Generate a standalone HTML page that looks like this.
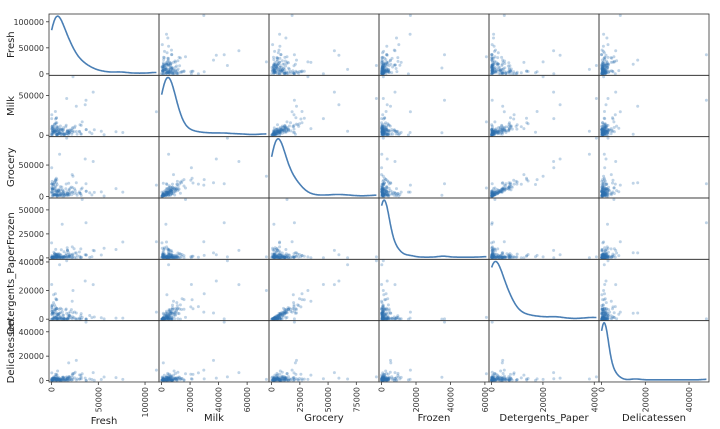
<!DOCTYPE html>
<html><head><meta charset="utf-8"><style>
body{margin:0;background:#fff;}
svg{display:block;font-family:"DejaVu Sans","Liberation Sans",sans-serif;}
</style></head><body>
<svg id="chart" width="720" height="429"></svg>
<script>
const names=["Fresh","Milk","Grocery","Frozen","Detergents_Paper","Delicatessen"];
const mins=[3,55,3,25,3,3];
const maxs=[112151,73498,92780,60869,40827,47943];
const yTicks=[[0,50000,100000],[0,50000],[0,50000],[0,25000,50000],[0,20000,40000],[0,20000,40000]];
const xTicks=[[0,50000,100000],[0,20000,40000,60000],[0,25000,50000,75000],[0,20000,40000,60000],[0,20000,40000],[0,20000,40000]];
const customers=[
[12669,9656,7561,214,2674,1338],[7057,9810,9568,1762,3293,1776],[6353,8808,7684,2405,3516,7844],
[13265,1196,4221,6404,507,1788],[22615,5410,7198,3915,1777,5185],[9413,8259,5126,666,1795,1451],
[12126,3199,6975,480,3140,545],[7579,4956,9426,1669,3321,2566],[5963,3648,6192,425,1716,750],
[6006,11093,18881,1159,7425,2098],[3366,5403,12974,4400,5977,1744],[13146,1124,4523,1420,549,497],
[31714,12319,11757,287,3881,2931],[21217,6208,14982,3095,6707,602],[24653,9465,12091,294,5058,2168],
[10253,1114,3821,397,964,412],[1020,8816,12121,134,4508,1080],[5876,6157,2933,839,370,4478],
[18601,6327,10099,2205,2767,3181],[7780,2495,9464,669,2518,501],[17546,4519,4602,1066,2259,2124],
[5567,871,2010,3383,375,569],[31276,1917,4469,9408,2381,4334],[26373,36423,22019,5154,4337,16523],
[22647,9776,13792,2915,4482,5778],[16165,4230,7595,201,4003,57],[9898,961,2861,3151,242,833],
[14276,803,3045,485,100,518],[4113,20484,25957,1158,8604,5206],[43088,2100,2609,1200,1107,823],
[18815,3610,11107,1148,2134,2963],[2612,4339,3133,2088,820,985],[21632,1318,2886,266,918,405],
[29729,4786,7326,6130,361,1083],[1502,1979,2262,425,483,395],[688,5491,11091,833,4239,436],
[29955,4362,5428,1729,862,4626],[15168,10556,12477,1920,6506,714],[4591,15729,16709,33,6956,433],
[56159,555,902,10002,212,2916],[24025,4332,4757,9510,1145,5864],[19176,3065,5956,2033,2575,2802],
[10850,7555,14961,188,6899,46],[630,11095,23998,787,9529,72],[9670,7027,10471,541,4618,65],
[5181,22044,21531,1740,7353,4985],[3103,14069,21955,1668,6792,1452],[44466,54259,55571,7782,24171,6465],
[11519,6152,10868,584,5121,1476],[4967,21412,28921,1798,13583,1163],[6269,1095,1980,3860,609,2162],
[3347,4051,6996,239,1538,301],[40721,3916,5876,532,2587,1278],[491,10473,11532,744,5611,224],
[27329,1449,1947,2436,204,1333],[5264,3683,5005,1057,2024,1130],[4098,29892,26866,2616,17740,1340],
[5417,9933,10487,38,7572,1282],[13779,1970,1648,596,227,436],[6137,5360,8040,129,3084,1603],
[8590,3045,7854,96,4095,225],[35942,38369,59598,3254,26701,2017],[7823,6245,6544,4154,4074,964],
[9396,11601,15775,2896,7677,1295],[4760,1227,3250,3724,1247,1145],[85,20959,45828,36,24231,1423],
[9,1534,7417,175,3468,27],[19913,6759,13462,1256,5141,834],[2446,7260,3993,5870,788,3095],
[8352,2820,1293,779,656,144],[16705,2037,3202,10643,116,1365],[18291,1266,21042,5373,4173,14472],
[4420,5139,2661,8872,1321,181],[19899,5065,5956,3176,2316,2116],[112151,29627,18148,16745,4948,8550],
[36847,43950,20170,36534,239,47943],[32717,16784,13626,60869,1272,5609],[8565,4980,67298,131,38102,1215],
[16117,46197,92780,1026,40827,2944],[22925,73498,32114,987,20070,903],[3,333,7021,15601,15,550],
[76237,3473,7102,16538,778,918],[68951,4411,12609,8692,751,2406],[53205,4959,7336,3012,967,818],
[25203,11487,9490,5065,284,6854],[3067,13240,23127,3941,9959,731],[11314,3090,2062,35009,71,2698],
[2137,3737,19172,1274,17120,142],[8258,2344,2147,3896,266,635],[17023,5139,5230,7888,330,1755],
[1660,5455,17000,800,5455,1000],[26539,4753,5091,220,10,340],[37036,7152,8253,2995,20,3],
[4484,14399,24708,3549,14235,1681],[22096,3575,7041,11422,343,2564],[2083,5007,1563,1120,147,1550],
[8040,7639,11687,2758,6839,404],[834,11577,11522,275,4027,1856],[16936,6250,1981,7332,118,64],
[13624,295,1381,890,43,84],[5509,1461,2251,547,187,409],[180,3485,20292,959,5618,666],
[7107,1012,2974,806,355,1142],[17023,5139,5230,7888,330,1755],[30379,13252,5189,321,51,1450],
[37036,7152,8253,2995,20,3],[10405,1596,1096,8425,399,318],[18827,3677,1988,118,516,201],
[22039,8384,34792,42,12591,4430],[7769,1936,2177,926,73,520],[9203,3373,2707,1286,1082,526],
[5924,584,542,4052,283,434],[31812,1433,1651,800,113,1440],[16225,1825,1765,853,170,1067],
[1289,3328,2022,531,255,1774],[18840,3371,3298,1766,1024,1017],[3463,9250,2368,779,302,1627],
[622,55,137,75,7,8],[1989,10690,19460,233,11577,2153],[3830,5291,14855,317,6694,3182],
[17773,1366,2474,3378,811,418],[2861,6570,9618,930,4004,1682],[355,7704,14682,398,8077,303],
[1725,3651,12822,824,4424,2157],[12434,540,283,1092,3,2233],[15177,2024,3810,2665,232,610],
[5531,15726,26870,2367,13726,446],[5224,7603,8584,2540,3674,238],[15615,12653,19858,4425,7108,2379],
[4822,6721,9170,993,4973,3637],[2926,3195,3268,405,1680,693],[5809,735,803,1393,79,429],
[5414,717,2155,2399,69,750],[260,8675,13430,1116,7015,323],[200,25862,19816,651,8773,6250],
[955,5479,6536,333,2840,707],[514,7677,19805,937,9836,716],[286,1208,5241,2515,153,1442],
[2343,7845,11874,52,4196,1697],[45640,6958,6536,7368,1532,230],[12759,7330,4533,1752,20,2631],
[11002,7075,4945,1152,120,395],[3157,4888,2500,4477,273,2165],[12356,6036,8887,402,1382,2794],
[112,2,1,1,1,1]
].slice(0,-1);
const N=6,L=49,T=14,CW=110,RH=61.33;
const svg=document.getElementById('chart');
const NS='http://www.w3.org/2000/svg';
function mk(tag,attrs,parent){const e=document.createElementNS(NS,tag);for(const k in attrs)e.setAttribute(k,attrs[k]);(parent||svg).appendChild(e);return e;}
function lo(v){return mins[v]-(maxs[v]-mins[v])*0.025;}
function hi(v){return maxs[v]+(maxs[v]-mins[v])*0.025;}
function xScale(col,val){return L+col*CW+(val-lo(col))/(hi(col)-lo(col))*CW;}
function yScale(row,val){return T+(row+1)*RH-(val-lo(row))/(hi(row)-lo(row))*RH;}
function kde(v){
  const vals=customers.map(c=>c[v]);const n=vals.length;
  const mean=vals.reduce((a,b)=>a+b,0)/n;
  const sd=Math.sqrt(vals.reduce((a,b)=>a+(b-mean)**2,0)/(n-1));
  const h=sd*Math.pow(n,-0.2)*1.1;
  const out=[];
  for(let i=0;i<=240;i++){const x=mins[v]+(maxs[v]-mins[v])*i/240;let s=0;
    for(const d of vals){const z=(x-d)/h;s+=Math.exp(-0.5*z*z);}out.push([x,s]);}
  return out;
}
for(let r=0;r<N;r++){
  for(let c=0;c<N;c++){
    const g=mk('g',{});
    
    
    const x0=L+c*CW,y0=T+r*RH;
    if(r===c){
      const pts=kde(c);const mx=Math.max(...pts.map(p=>p[1]));
      const d=pts.map((p,i)=>(i?'L':'M')+xScale(c,p[0]).toFixed(1)+','+(y0+RH-(p[1]/mx*0.93+0.035)*RH).toFixed(1)).join('');
      const path=mk('path',{d:d,fill:'none',stroke:'#4a7fb5','stroke-width':1.6},g);
      
      
    } else {
      for(const cu of customers){
        const dot=mk('circle',{cx:xScale(c,cu[c]).toFixed(1),cy:yScale(r,cu[r]).toFixed(1),r:1.5,fill:'#2f6fb0','fill-opacity':0.3},g);
        
        
      }
    }
    mk('rect',{x:x0,y:y0,width:CW,height:RH,fill:'none',stroke:'#333','stroke-width':0.8},g);
  }
}
for(let r=0;r<N;r++){
  yTicks[r].forEach(t=>{const y=yScale(r,t);
    mk('line',{x1:L-3,x2:L,y1:y,y2:y,stroke:'#333','stroke-width':0.8});
    const tx=mk('text',{x:L-5,y:y+3,'text-anchor':'end','font-size':8,fill:'#333'});tx.textContent=t;
    
    });
  const lab=mk('text',{transform:`translate(14,${T+r*RH+RH/2}) rotate(-90)`,'text-anchor':'middle','font-size':10,fill:'#222'});
  lab.textContent=names[r];
  
  
}
const yb=T+N*RH;
for(let c=0;c<N;c++){
  xTicks[c].forEach(t=>{const x=xScale(c,t);
    mk('line',{x1:x,x2:x,y1:yb,y2:yb+3,stroke:'#333','stroke-width':0.8});
    const tx=mk('text',{transform:`translate(${x+3},${yb+5}) rotate(-90)`,'text-anchor':'end','font-size':8,fill:'#333'});tx.textContent=t;
    
    });
  const lab=mk('text',{x:L+c*CW+CW/2,y:c===0?424:421,'text-anchor':'middle','font-size':10,fill:'#222'});
  lab.textContent=names[c];
  
  
}
</script>
</body></html>
